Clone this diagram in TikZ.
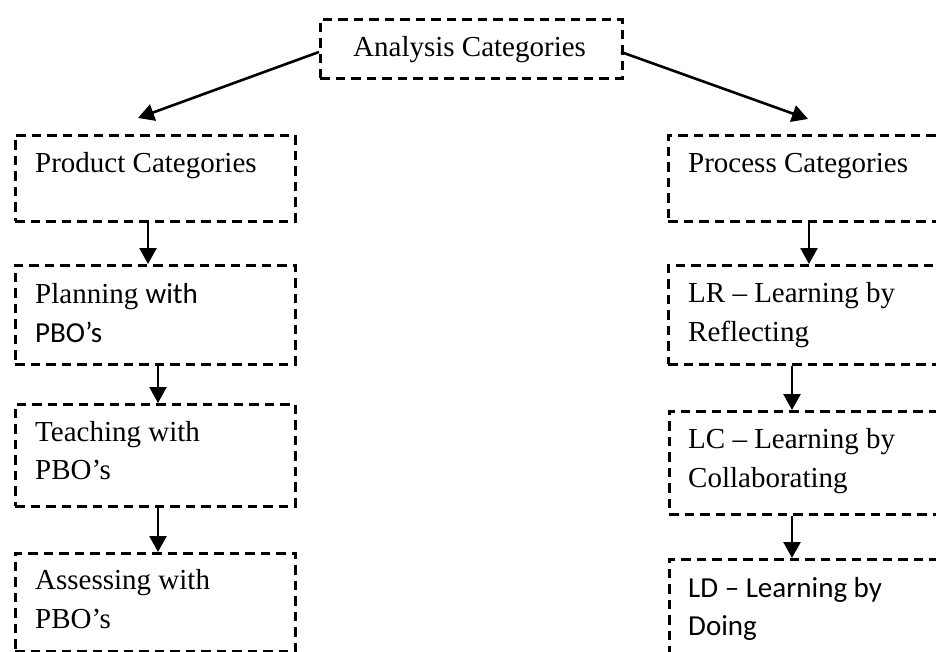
\documentclass[tikz,border=0pt]{standalone}
\usepackage{fontspec}
\setmainfont{Liberation Serif}
\newfontfamily\calfont{Carlito}
\usetikzlibrary{arrows.meta}
\begin{document}
\begin{tikzpicture}[x=1pt,y=-1pt,
  boxnode/.style={draw,line width=2.8pt,dash pattern=on 9.5pt off 6pt,rectangle,inner sep=0pt,anchor=north west,minimum width=#1},
  boxnode/.default=280pt,
  lbl/.style={inner sep=0pt,anchor=base west,font=\fontsize{29}{37}\selectfont},
  arr/.style={line width=2.6pt,-{Triangle[length=16pt,width=17pt]}}]
\clip (0,0) rectangle (936,651);
% boxes
\node[boxnode=302pt,minimum height=59pt] (top) at (319,18) {};
\node[boxnode,minimum height=86pt] (prod) at (14,134) {};
\node[boxnode,minimum height=99pt] (plan) at (14,264) {};
\node[boxnode,minimum height=102pt] (teach) at (14,403) {};
\node[boxnode,minimum height=98pt] (assess) at (14,552) {};
\node[boxnode=300pt,minimum height=86pt] (proc) at (667,134) {};
\node[boxnode=300pt,minimum height=99pt] (lr) at (667,264) {};
\node[boxnode=300pt,minimum height=103pt] (lc) at (668,410) {};
\node[boxnode=300pt,minimum height=150pt] (ld) at (668,558) {};
% texts
\node[lbl] (ttop) at (353,56) {Analysis Categories};
\node[lbl] (tprod) at (35,172) {Product Categories};
\node[lbl] (tplan1) at (35,303) {Planning {\calfont with}};
\node[lbl] (tplan2) at (35,342) {\calfont PBO’s};
\node[lbl] (tteach1) at (35,441) {Teaching with};
\node[lbl] (tteach2) at (35,479) {PBO’s};
\node[lbl] (tass1) at (35,589) {Assessing with};
\node[lbl] (tass2) at (35,628) {PBO’s};
\node[lbl] (tproc) at (688,172) {Process Categories};
\node[lbl] (tlr1) at (688,302) {LR – Learning by};
\node[lbl] (tlr2) at (688,341) {Reflecting};
\node[lbl] (tlc1) at (688,448) {LC – Learning by};
\node[lbl] (tlc2) at (688,487) {Collaborating};
\node[lbl] (tld1) at (688,597) {\calfont LD – Learning by};
\node[lbl] (tld2) at (688,635) {\calfont Doing};
% connector helpers
\coordinate (lt) at (319,52);
\coordinate (rt) at (621,52);
\coordinate (le) at (138,118);
\coordinate (re) at (808,119);
\coordinate (xa) at (148,0);
\coordinate (xb) at (158,0);
\coordinate (xc) at (809,0);
\coordinate (xd) at (792,0);
% connectors
\draw[arr] (lt) -- (le);
\draw[arr] (rt) -- (re);
\draw[arr] (prod.south -| xa) -- (plan.north -| xa);
\draw[arr] (plan.south -| xb) -- (teach.north -| xb);
\draw[arr] (teach.south -| xb) -- (assess.north -| xb);
\draw[arr] (proc.south -| xc) -- (lr.north -| xc);
\draw[arr] (lr.south -| xd) -- (lc.north -| xd);
\draw[arr] (lc.south -| xd) -- (ld.north -| xd);
\end{tikzpicture}
\end{document}
